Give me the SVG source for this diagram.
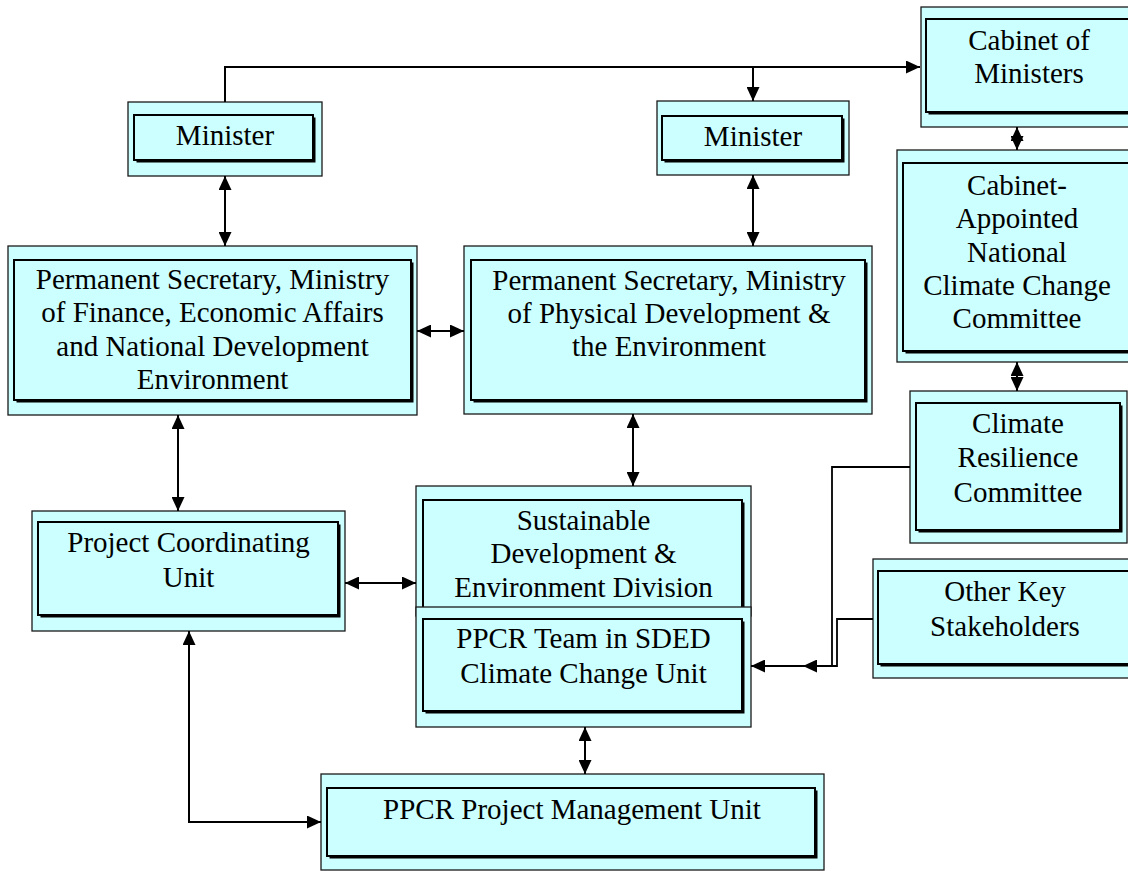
<svg xmlns="http://www.w3.org/2000/svg" width="1128" height="871" viewBox="0 0 1128 871">
  <style>
    .outer { fill: #CCFFFF; stroke: #1a1a1a; stroke-width: 1.3; }
    .shadow { fill: #000000; }
    .inner { fill: #CCFFFF; stroke: #000000; stroke-width: 2; }
    .label { font-family: "Liberation Serif", "Times New Roman", serif; font-size: 29px; fill: #000000; text-anchor: middle; }
    .conn { fill: none; stroke: #000000; stroke-width: 2; }
    .thin { stroke-width: 1.8; }
  </style>
  <defs>
    <marker id="arrow" markerUnits="userSpaceOnUse" markerWidth="14" markerHeight="13" refX="14" refY="6.5" orient="auto-start-reverse">
      <path d="M0,0 L14,6.5 L0,13 z" fill="#000000"/>
    </marker>
  </defs>
  <rect width="1128" height="871" fill="#ffffff"/>

  <!-- Minister (Finance) -->
  <g id="minister-finance">
    <rect class="outer" x="128" y="102" width="194" height="74"/>
    <rect class="shadow" x="136.5" y="117.5" width="179" height="45"/>
    <rect class="inner" x="134" y="115" width="179" height="45"/>
    <text class="label" x="225" y="145">Minister</text>
  </g>

  <!-- Minister (Physical Development) -->
  <g id="minister-physical">
    <rect class="outer" x="657" y="101" width="192" height="74"/>
    <rect class="shadow" x="664.5" y="118.5" width="180" height="44"/>
    <rect class="inner" x="662" y="116" width="180" height="44"/>
    <text class="label" x="753" y="146">Minister</text>
  </g>

  <!-- Cabinet of Ministers -->
  <g id="cabinet">
    <rect class="outer" x="921" y="7" width="216" height="120"/>
    <rect class="shadow" x="928.5" y="21.5" width="206" height="93"/>
    <rect class="inner" x="926" y="19" width="206" height="93"/>
    <text class="label" x="1029" y="50">Cabinet of</text>
    <text class="label" x="1029" y="83">Ministers</text>
  </g>

  <!-- Permanent Secretary, Finance -->
  <g id="ps-finance">
    <rect class="outer" x="8" y="246" width="409" height="169"/>
    <rect class="shadow" x="16.5" y="262.5" width="397" height="140"/>
    <rect class="inner" x="14" y="260" width="397" height="140"/>
    <text class="label" x="212.5" y="289">Permanent Secretary, Ministry</text>
    <text class="label" x="212.5" y="322">of Finance, Economic Affairs</text>
    <text class="label" x="212.5" y="356">and National Development</text>
    <text class="label" x="212.5" y="389">Environment</text>
  </g>

  <!-- Permanent Secretary, Physical Development -->
  <g id="ps-physical">
    <rect class="outer" x="464" y="246" width="408" height="168"/>
    <rect class="shadow" x="473.5" y="262.5" width="394" height="140"/>
    <rect class="inner" x="471" y="260" width="394" height="140"/>
    <text class="label" x="669" y="290">Permanent Secretary, Ministry</text>
    <text class="label" x="669" y="323">of Physical Development &amp;</text>
    <text class="label" x="669" y="356">the Environment</text>
  </g>

  <!-- Cabinet-Appointed National Climate Change Committee -->
  <g id="nccc">
    <rect class="outer" x="897" y="150" width="240" height="212"/>
    <rect class="shadow" x="905.5" y="165.5" width="230" height="188"/>
    <rect class="inner" x="903" y="163" width="230" height="188"/>
    <text class="label" x="1017" y="195">Cabinet-</text>
    <text class="label" x="1017" y="228">Appointed</text>
    <text class="label" x="1017" y="261.5">National</text>
    <text class="label" x="1017" y="295">Climate Change</text>
    <text class="label" x="1017" y="328">Committee</text>
  </g>

  <!-- Climate Resilience Committee -->
  <g id="crc">
    <rect class="outer" x="910" y="391" width="217" height="152"/>
    <rect class="shadow" x="918.5" y="405.5" width="204" height="127"/>
    <rect class="inner" x="916" y="403" width="204" height="127"/>
    <text class="label" x="1018" y="433">Climate</text>
    <text class="label" x="1018" y="467">Resilience</text>
    <text class="label" x="1018" y="502">Committee</text>
  </g>

  <!-- Project Coordinating Unit -->
  <g id="pcu">
    <rect class="outer" x="32" y="511" width="313" height="120"/>
    <rect class="shadow" x="40.5" y="524.5" width="300" height="93"/>
    <rect class="inner" x="38" y="522" width="300" height="93"/>
    <text class="label" x="188.5" y="552">Project Coordinating</text>
    <text class="label" x="188.5" y="587">Unit</text>
  </g>

  <!-- Sustainable Development & Environment Division -->
  <g id="sded">
    <rect class="outer" x="416" y="486" width="335" height="130"/>
    <rect class="shadow" x="425.5" y="502.5" width="319" height="110"/>
    <rect class="inner" x="423" y="500" width="319" height="110"/>
    <text class="label" x="583.5" y="530">Sustainable</text>
    <text class="label" x="583.5" y="563">Development &amp;</text>
    <text class="label" x="583.5" y="597">Environment Division</text>
  </g>

  <!-- PPCR Team in SDED -->
  <g id="ppcr-team">
    <rect class="outer" x="416" y="607" width="335" height="120"/>
    <rect class="shadow" x="425.5" y="621.5" width="319" height="92"/>
    <rect class="inner" x="423" y="619" width="319" height="92"/>
    <text class="label" x="583.5" y="648">PPCR Team in SDED</text>
    <text class="label" x="583.5" y="683">Climate Change Unit</text>
  </g>

  <!-- Other Key Stakeholders -->
  <g id="stakeholders">
    <rect class="outer" x="873" y="559" width="264" height="119"/>
    <rect class="shadow" x="880.5" y="573.5" width="255" height="93"/>
    <rect class="inner" x="878" y="571" width="255" height="93"/>
    <text class="label" x="1005" y="601">Other Key</text>
    <text class="label" x="1005" y="636">Stakeholders</text>
  </g>

  <!-- PPCR Project Management Unit -->
  <g id="pmu">
    <rect class="outer" x="321" y="774" width="503" height="96"/>
    <rect class="shadow" x="329.5" y="790.5" width="488" height="68"/>
    <rect class="inner" x="327" y="788" width="488" height="68"/>
    <text class="label" x="572" y="819">PPCR Project Management Unit</text>
  </g>

  <!-- Connectors -->
  <g id="connectors">
    <path class="conn" d="M225,102 V67 H920" marker-end="url(#arrow)"/>
    <path class="conn" d="M753,67 V101" marker-end="url(#arrow)"/>
    <path class="conn" d="M225,176 V246" marker-start="url(#arrow)" marker-end="url(#arrow)"/>
    <path class="conn" d="M753,175 V246" marker-start="url(#arrow)" marker-end="url(#arrow)"/>
    <path class="conn" d="M417,331 H464" marker-start="url(#arrow)" marker-end="url(#arrow)"/>
    <path class="conn" d="M178,415 V511" marker-start="url(#arrow)" marker-end="url(#arrow)"/>
    <path class="conn" d="M633,414 V486" marker-start="url(#arrow)" marker-end="url(#arrow)"/>
    <path class="conn" d="M345,583 H416" marker-start="url(#arrow)" marker-end="url(#arrow)"/>
    <path class="conn" d="M189,631 V822 H321" marker-start="url(#arrow)" marker-end="url(#arrow)"/>
    <path class="conn" d="M585,727 V774" marker-start="url(#arrow)" marker-end="url(#arrow)"/>
    <path class="conn" d="M1017,127 V150" marker-start="url(#arrow)" marker-end="url(#arrow)"/>
    <path class="conn" d="M1017,362 V391" marker-start="url(#arrow)" marker-end="url(#arrow)"/>
    <path class="conn thin" d="M910,467 H832 V666 H803" marker-end="url(#arrow)"/>
    <path class="conn thin" d="M873,619 H837 V666 H751" marker-end="url(#arrow)"/>
  </g>
</svg>
